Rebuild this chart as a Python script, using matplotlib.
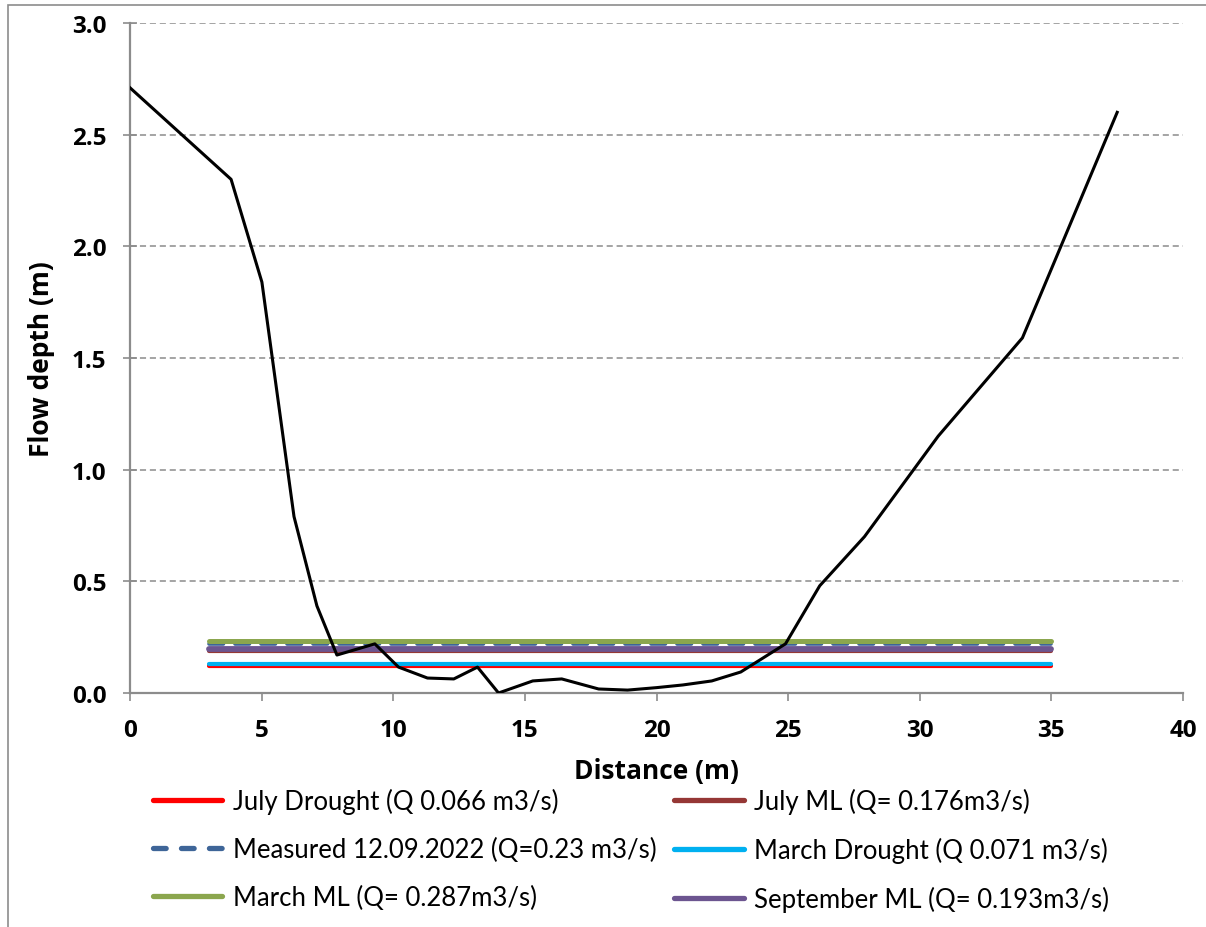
import matplotlib
matplotlib.use("Agg")
import matplotlib.pyplot as plt
from matplotlib.lines import Line2D
from matplotlib.patches import Rectangle

# ---- data ----
profile_x = [0.0, 3.84, 5.01, 6.23, 7.10, 7.86, 9.3, 10.2, 11.3, 12.3, 13.2, 14.0,
             15.3, 16.4, 17.8, 18.9, 20.0, 21.0, 22.1, 23.2, 24.9, 26.2, 27.9,
             30.7, 33.9, 37.5]
profile_y = [2.71, 2.30, 1.84, 0.79, 0.39, 0.17, 0.22, 0.116, 0.067, 0.063, 0.116, 0.0,
             0.054, 0.063, 0.018, 0.013, 0.024, 0.036, 0.054, 0.094, 0.22, 0.48, 0.70,
             1.15, 1.59, 2.60]

ws_x = [3, 35]
series_labels = ["July Drought (Q 0.066 m3/s)", "July ML (Q= 0.176m3/s)",
                 "Measured 12.09.2022 (Q=0.23 m3/s)", "March Drought (Q 0.071 m3/s)",
                 "March ML (Q= 0.287m3/s)", "September ML (Q= 0.193m3/s)"]
series_depth = [0.121, 0.188, 0.219, 0.130, 0.234, 0.197]
series_colors = ["#FF0000", "#953735", "#3E6598", "#00B0F0", "#8BA64E", "#6C5590"]
series_styles = ["-", "-", "--", "-", "-", "-"]
series_widths = [3.0, 3.0, 2.6, 3.0, 3.6, 4.2]

x_ticks = [0, 5, 10, 15, 20, 25, 30, 35, 40]
y_ticks = [0.0, 0.5, 1.0, 1.5, 2.0, 2.5, 3.0]

plt.rcParams['font.family'] = ['Lato', 'DejaVu Sans']
BOLD = ['Open Sans', 'DejaVu Sans']

fig = plt.figure(figsize=(12.06, 9.28), dpi=100)
ax = fig.add_axes([130/1206, 1-694/928, (1183-130)/1206, (694-24)/928])

# outer frame (left/top visible)
fig.patches.append(Rectangle((8/1206, -0.05), 1.2, 1 - 6/928 + 0.05, transform=fig.transFigure,
                             fill=False, edgecolor="#8c8c8c", linewidth=1.2))

for lab, d, c, ls, lw in zip(series_labels, series_depth, series_colors, series_styles, series_widths):
    if ls == "--":
        ax.plot(ws_x, [d, d], color=c, linewidth=lw, linestyle=(0, (4.0, 3.2)),
                dash_capstyle='round', label=lab, zorder=3)
    else:
        ax.plot(ws_x, [d, d], color=c, linewidth=lw, solid_capstyle='round', label=lab, zorder=3)

ax.plot(profile_x, profile_y, color="black", linewidth=2.2, zorder=4)

ax.set_xlim(0, 40)
ax.set_ylim(0, 3.0)
ax.set_xticks(x_ticks)
ax.set_yticks(y_ticks)
ax.set_xticklabels([str(v) for v in x_ticks], fontsize=17.5, fontweight='bold', family=BOLD)
ax.set_yticklabels([f"{v:.1f}" for v in y_ticks], fontsize=17.5, fontweight='bold', family=BOLD)
ax.grid(axis='y', color="#8c8c8c", linestyle=(0, (4, 2.5)), linewidth=1.1)
ax.set_axisbelow(True)
for s in ['top', 'right']:
    ax.spines[s].set_visible(False)
for s in ['left', 'bottom']:
    ax.spines[s].set_color("#8c8c8c")
    ax.spines[s].set_linewidth(1.6)
ax.tick_params(axis='y', direction='inout', length=10, width=1.2, color="#8c8c8c", pad=12)
ax.tick_params(axis='x', direction='out', length=6, width=1.2, color="#8c8c8c", pad=12)

ax.set_xlabel("Distance (m)", fontsize=19, fontweight='bold', family=BOLD, labelpad=11)
ax.set_ylabel("Flow depth (m)", fontsize=19, fontweight='bold', family=BOLD, labelpad=12)

# legend in Excel order (row-wise): reorder for column-major fill
order = [0, 2, 4, 1, 3, 5]
leg_h = []
for i in order:
    c = series_colors[i]
    if series_styles[i] == "--":
        leg_h.append(Line2D([], [], color=c, linewidth=3.8, linestyle=(0, (2.4, 2.9)), dash_capstyle='round'))
    else:
        leg_h.append(Line2D([], [], color=c, linewidth=3.8, solid_capstyle='round'))
fig.legend(leg_h, [series_labels[i] for i in order], ncol=2, frameon=False,
           loc='upper left', bbox_to_anchor=(153/1206, 1-789/928),
           fontsize=18.5, handlelength=2.7, handletextpad=0.4, columnspacing=0.7,
           labelspacing=0.89, borderpad=0, borderaxespad=0)

fig.savefig("out.png", dpi=100)
